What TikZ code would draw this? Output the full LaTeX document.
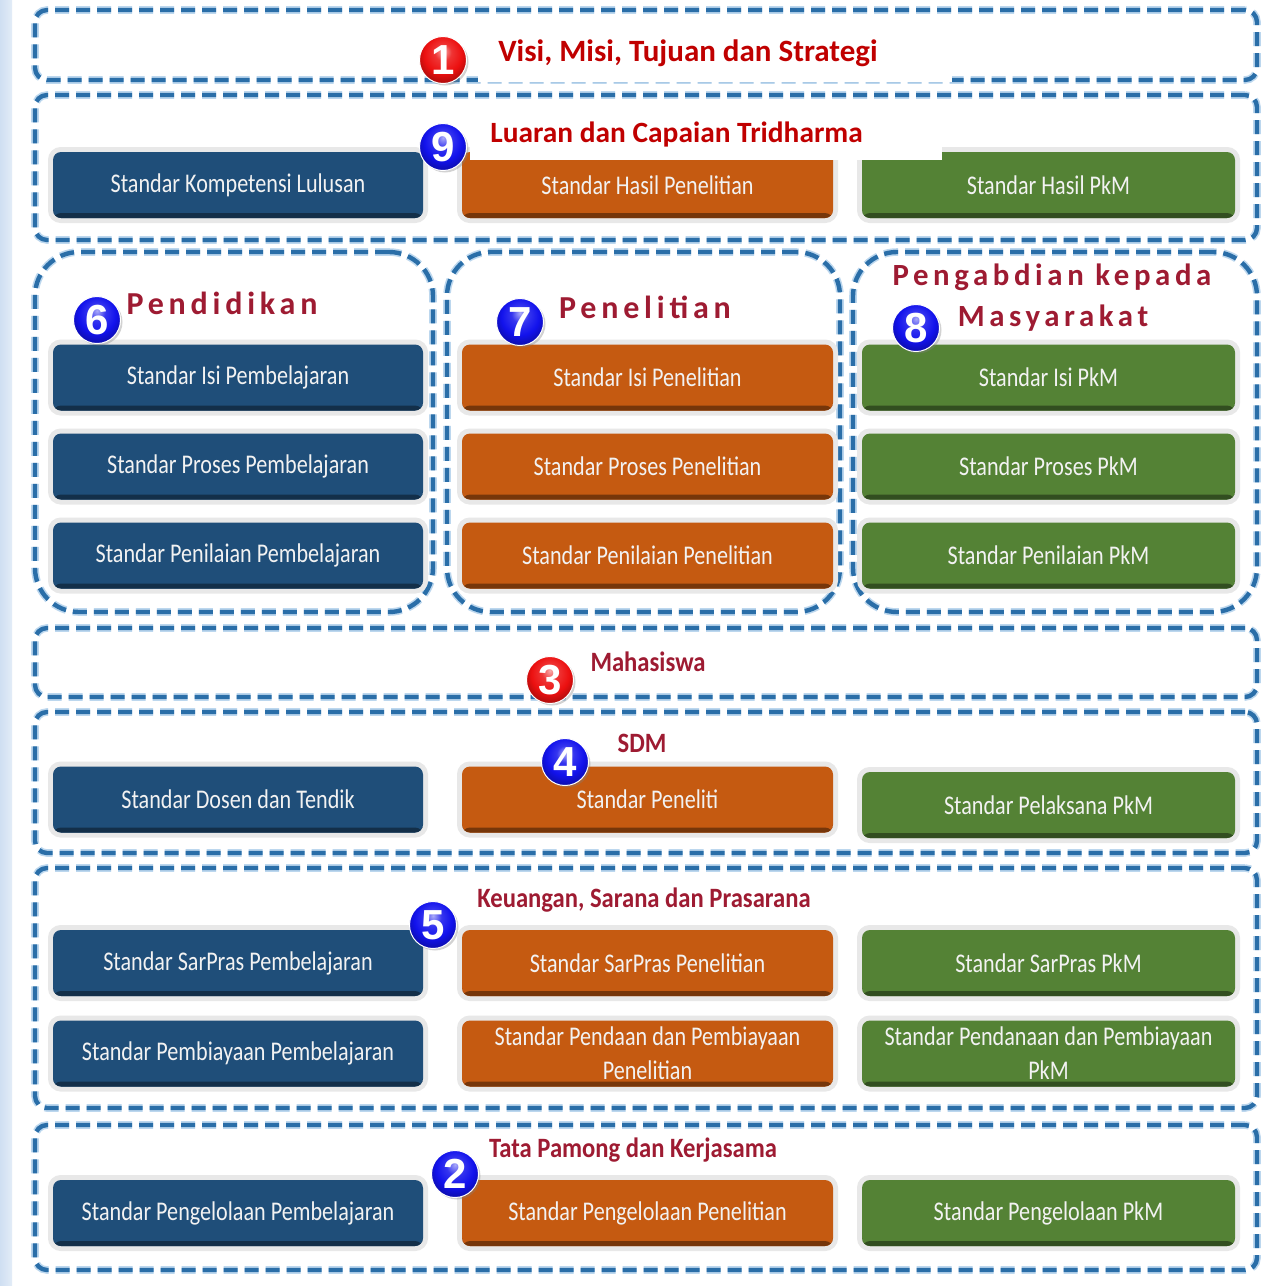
\documentclass[tikz,border=0pt]{standalone}
\usepackage{fontspec}
\setmainfont{Carlito}
\newfontfamily\boxfont[FakeStretch=0.82]{Carlito}
\newfontfamily\headfont[FakeStretch=0.88]{Carlito}
\newfontfamily\spacedfont[LetterSpace=15]{Carlito}
\newfontfamily\numfont{Liberation Sans}
\usetikzlibrary{fit,shadows}
\definecolor{bC}{HTML}{1F4E79}
\definecolor{oC}{HTML}{C55A11}
\definecolor{gC}{HTML}{548235}
\definecolor{dashC}{HTML}{2A6EA8}
\definecolor{dashL}{HTML}{BCD7EE}
\definecolor{titleR}{HTML}{C00000}
\definecolor{headR}{HTML}{9E1B32}
\definecolor{boxT}{HTML}{F2F2F2}
\definecolor{stripC}{HTML}{CFDFF2}
\definecolor{ballB}{HTML}{1212EC}
\definecolor{ballR}{HTML}{EC1010}
\pgfdeclareradialshading{ballshB}{\pgfpoint{0bp}{10bp}}{%
  color(0bp)=(ballB!35!white); color(9bp)=(ballB!85!white);
  color(20bp)=(ballB); color(30bp)=(ballB!70!black); color(50bp)=(ballB!55!black)}
\pgfdeclareradialshading{ballshR}{\pgfpoint{0bp}{10bp}}{%
  color(0bp)=(ballR!35!white); color(9bp)=(ballR!85!white);
  color(20bp)=(ballR); color(30bp)=(ballR!70!black); color(50bp)=(ballR!55!black)}
\tikzset{
  sect/.style={draw=dashC, line width=2.2pt, dash pattern=on 7pt off 3.5pt,
    rounded corners=6pt, inner sep=0pt,
    preaction={draw=dashL, line width=3.8pt, dash pattern=on 7pt off 3.5pt}},
  colsect/.style={sect, rounded corners=22pt},
  sbox/.style={rounded corners=4pt, inner sep=0pt, text=boxT,
    font=\boxfont\fontsize{13.5}{17}\selectfont, align=center,
    minimum height=33pt,
    preaction={draw=black!9, line width=5pt},
    fill=#1,
    path picture={\fill[#1!60!black] (path picture bounding box.south west)
      rectangle ([yshift=2.5pt]path picture bounding box.south east);}},
  c1/.style={minimum width=185pt},
  c2/.style={minimum width=185.5pt},
  c3/.style={minimum width=186.5pt},
  ball/.style={circle, shading=#1, minimum size=23.5pt,
    inner sep=0pt, text=white, draw=white, line width=0.5pt,
    font=\numfont\bfseries\fontsize{21}{21}\selectfont,
    drop shadow={shadow xshift=1pt, shadow yshift=-1pt, opacity=0.35}},
  ttl/.style={text=titleR, font=\bfseries\fontsize{15.5}{17}\selectfont, inner sep=0pt},
  ttlb/.style={text=titleR, font=\bfseries\fontsize{14.7}{16}\selectfont, inner sep=0pt},
  hd/.style={text=headR, font=\headfont\bfseries\fontsize{14}{16}\selectfont, inner sep=0pt},
  sp/.style={text=headR, font=\spacedfont\bfseries\fontsize{16}{18}\selectfont, inner sep=0pt},
  spm/.style={text=headR, font=\spacedfont\bfseries\fontsize{15.4}{18}\selectfont, inner sep=0pt}
}
\begin{document}
\begin{tikzpicture}[x=0.5pt,y=-0.5pt]
\useasboundingbox (0,0) rectangle (1264,1286);
\fill[white] (0,0) rectangle (1264,1286);
\shade[left color=stripC, right color=stripC!60!white] (0,0) rectangle (12,1286);

% sections
\node[sect, fit={(35,10)(1257,80)}] (s1) {};
\node[sect, fit={(35,95)(1257,240)}] (s9) {};
\node[colsect, fit={(35,252)(433,612)}] (s6) {};
\node[colsect, fit={(447,252)(840,612)}] (s7) {};
\node[colsect, fit={(853,252)(1257,612)}] (s8) {};
\node[sect, fit={(35,628)(1257,697)}] (s3) {};
\node[sect, fit={(35,712)(1257,853)}] (s4) {};
\node[sect, fit={(35,868)(1257,1108)}] (s5) {};
\node[sect, fit={(35,1125)(1257,1270)}] (s2) {};

% row 9
\node[sbox=bC, c1] (b9a) at (238,185) {Standar Kompetensi Lulusan};
\node[sbox=oC, c2] (b9b) at (647.5,185) {Standar Hasil Penelitian};
\node[sbox=gC, c3] (b9c) at (1048.5,185) {Standar Hasil PkM};

% columns
\node[sbox=bC, c1] (b6a) at (238,377.5) {Standar Isi Pembelajaran};
\node[sbox=bC, c1] (b6b) at (238,466.5) {Standar Proses Pembelajaran};
\node[sbox=bC, c1] (b6c) at (238,555.5) {Standar Penilaian Pembelajaran};
\node[sbox=oC, c2] (b7a) at (647.5,377.5) {Standar Isi Penelitian};
\node[sbox=oC, c2] (b7b) at (647.5,466.5) {Standar Proses Penelitian};
\node[sbox=oC, c2] (b7c) at (647.5,555.5) {Standar Penilaian Penelitian};
\node[sbox=gC, c3] (b8a) at (1048.5,377.5) {Standar Isi PkM};
\node[sbox=gC, c3] (b8b) at (1048.5,466.5) {Standar Proses PkM};
\node[sbox=gC, c3] (b8c) at (1048.5,555.5) {Standar Penilaian PkM};

% SDM
\node[sbox=bC, c1] (b4a) at (238,799.5) {Standar Dosen dan Tendik};
\node[sbox=oC, c2] (b4b) at (647.5,799.5) {Standar Peneliti};
\node[sbox=gC, c3] (b4c) at (1048.5,805) {Standar Pelaksana PkM};

% Keuangan
\node[sbox=bC, c1] (b5a) at (238,963) {Standar SarPras Pembelajaran};
\node[sbox=oC, c2] (b5b) at (647.5,963) {Standar SarPras Penelitian};
\node[sbox=gC, c3] (b5c) at (1048.5,963) {Standar SarPras PkM};
\node[sbox=bC, c1] (b5d) at (238,1053.5) {Standar Pembiayaan Pembelajaran};
\node[sbox=oC, c2] (b5e) at (647.5,1053.5) {Standar Pendaan dan Pembiayaan\\Penelitian};
\node[sbox=gC, c3] (b5f) at (1048.5,1053.5) {Standar Pendanaan dan Pembiayaan\\PkM};

% Tata Pamong
\node[sbox=bC, c1] (b2a) at (238,1213) {Standar Pengelolaan Pembelajaran};
\node[sbox=oC, c2] (b2b) at (647.5,1213) {Standar Pengelolaan Penelitian};
\node[sbox=gC, c3] (b2c) at (1048.5,1213) {Standar Pengelolaan PkM};

% title backgrounds and titles
\node[fill=white, inner sep=0pt, fit={(478,35)(952,82)}] (t1bg) {};
\node[ttl, anchor=west] (t1) at (498,53) {Visi, Misi, Tujuan dan Strategi};
\node[fill=white, inner sep=0pt, fit={(470,116)(942,160)}] (t9bg) {};
\node[ttlb, anchor=west] (t9) at (490,134) {Luaran dan Capaian Tridharma};

\node[sp] (h6) at (222,303) {Pendidikan};
\node[sp] (h7) at (645,307) {Penelitian};
\node[spm] (h8a) at (1052,277) {Pengabdian kepada};
\node[spm] (h8b) at (1053,318) {Masyarakat};
\node[hd] (h3) at (648,662) {Mahasiswa};
\node[hd] (h4) at (642,743) {SDM};
\node[hd] (h5) at (644,900) {Keuangan, Sarana dan Prasarana};
\node[hd] (h2) at (633,1150) {Tata Pamong dan Kerjasama};

% numbered balls
\node[ball=ballshR] (n1) at (443,60) {1};
\node[ball=ballshB] (n9) at (443,147) {9};
\node[ball=ballshB] (n6) at (97,320) {6};
\node[ball=ballshB] (n7) at (520,322) {7};
\node[ball=ballshB] (n8) at (916,328) {8};
\node[ball=ballshR] (n3) at (550,680) {3};
\node[ball=ballshB] (n4) at (565,762) {4};
\node[ball=ballshB] (n5) at (433,925) {5};
\node[ball=ballshB] (n2) at (455,1174) {2};
\end{tikzpicture}
\end{document}
